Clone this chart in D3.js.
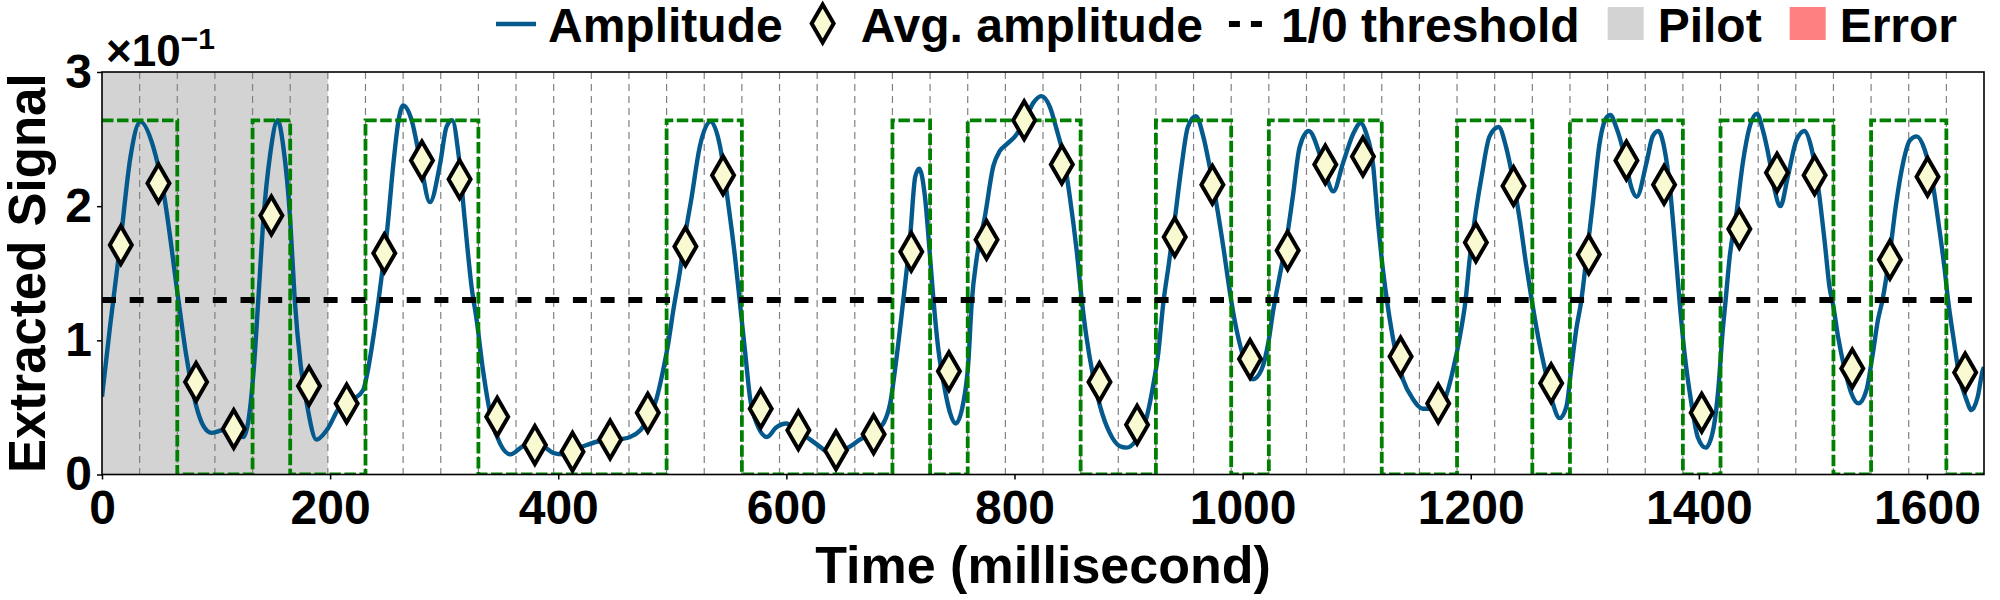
<!DOCTYPE html>
<html>
<head>
<meta charset="utf-8">
<script src="https://cdn.jsdelivr.net/npm/d3@7"></script>
<style>
  body { margin: 0; background: #fff; }
  svg text { font-family: "Liberation Sans", Arial, sans-serif; font-weight: bold; fill: #000; }
</style>
</head>
<body>
<div id="chart"></div>
<script>
// values are in units of 1e-1 (axis offset text "x10^-1")
var bitPeriod = 33;      // ms per bit
var timeMax = 1650;
var pilotEnd = 198;
var threshold = 1.3;
var squareHigh = 2.64;

var bits = [1,1,0,0,1,0,0,1,1,1, 0,0,0,0,0,1,1,0,0,0, 0,1,0,1,1,1,0,0,1,1,
            0,1,1,1,0,0,1,1,0,1, 1,1,0,1,1,1,0,1,1,0];

var avgAmp = [1.71,2.17,0.69,0.34,1.93,0.66,0.53,1.65,2.34,2.20,
              0.43,0.22,0.17,0.26,0.46,1.70,2.23,0.49,0.33,0.18,
              0.30,1.66,0.77,1.75,2.64,2.31,0.69,0.37,1.77,2.16,
              0.86,1.67,2.31,2.37,0.88,0.53,1.73,2.15,0.68,1.64,
              2.34,2.16,0.46,1.83,2.25,2.23,0.79,1.60,2.22,0.76];

// [time ms, amplitude]
var amplitude = [
  [0,0.58],[7,1.10],[16,1.72],[25,2.37],[33.5,2.63],[45,2.44],[54,2.10],[67,1.30],[74,0.88],[82,0.53],
  [89,0.36],[96,0.31],[106,0.33],[115,0.30],[124,0.28],[133,0.78],[137,1.30],[141.5,1.90],[147.5,2.39],[154,2.64],
  [159,2.44],[165,1.90],[169,1.30],[174,0.83],[179.5,0.53],[188,0.26],[197,0.33],[209,0.51],[220,0.56],[229,0.63],
  [232,0.73],[238,1.03],[244,1.40],[250,1.82],[255.5,2.32],[260,2.64],[264,2.75],[271.5,2.64],[279,2.34],[287.5,2.03],
  [296.5,2.32],[302,2.59],[307,2.64],[312.5,2.39],[318,1.90],[324,1.40],[328.5,1.15],[334,0.78],[341.5,0.41],[349,0.23],
  [358,0.15],[369,0.21],[378,0.23],[387,0.21],[396,0.16],[404.5,0.15],[413,0.18],[425,0.22],[436.5,0.25],[451,0.26],
  [463,0.28],[472,0.33],[480,0.43],[486,0.56],[492,0.78],[496.5,0.98],[501,1.23],[507,1.53],[511,1.77],[517,2.07],
  [524,2.44],[533.5,2.63],[542,2.44],[549,2.02],[555,1.62],[559,1.30],[564,0.90],[568,0.58],[574,0.38],[583,0.28],
  [591,0.35],[600,0.38],[609,0.33],[621,0.26],[629,0.21],[638,0.16],[647,0.17],[656,0.21],[664.5,0.26],[676,0.31],
  [685,0.38],[691,0.53],[696,0.83],[702.5,1.30],[708.5,1.77],[713,2.22],[716.5,2.28],[721.5,2.07],[726,1.62],[729,1.30],
  [733,0.95],[739,0.63],[743.5,0.46],[748.5,0.38],[755,0.53],[759.5,0.83],[762.5,1.28],[767,1.62],[774,1.92],[781.5,2.30],
  [787,2.41],[793,2.46],[800.5,2.52],[808,2.62],[816.5,2.77],[823.5,2.82],[831,2.74],[837,2.57],[843,2.37],[848.5,2.07],
  [854.5,1.67],[859,1.30],[863,1.03],[869,0.73],[875,0.51],[883.5,0.31],[892.5,0.21],[898,0.20],[907,0.26],[916,0.43],
  [921.5,0.66],[926,0.90],[930.5,1.28],[935,1.55],[940.5,1.90],[946.5,2.30],[952,2.59],[959,2.67],[965.5,2.52],[971,2.30],
  [977,2.02],[983,1.70],[989,1.35],[993,1.15],[1000.5,0.88],[1009,0.71],[1016.5,0.78],[1022.5,0.98],[1027,1.23],[1032.5,1.48],
  [1038.5,1.75],[1044,2.07],[1050,2.44],[1058,2.56],[1067.5,2.39],[1073.5,2.22],[1079.5,2.11],[1088,2.32],[1097,2.54],[1103.5,2.62],
  [1108.5,2.54],[1114.5,2.30],[1118.5,1.90],[1123,1.53],[1126.5,1.30],[1130.5,1.08],[1135,0.88],[1140.5,0.71],[1149.5,0.56],[1158,0.49],
  [1167,0.49],[1175.5,0.53],[1184.5,0.78],[1190.5,1.03],[1195.5,1.30],[1199,1.60],[1203.5,1.90],[1209.5,2.22],[1216.5,2.52],[1224.5,2.59],
  [1231,2.44],[1237,2.20],[1243,1.90],[1248.5,1.57],[1253.5,1.30],[1259,1.03],[1266.5,0.73],[1272,0.53],[1278,0.42],[1284,0.51],
  [1288,0.78],[1292.5,1.08],[1297,1.30],[1301.5,1.62],[1307,2.02],[1313,2.47],[1319,2.66],[1322.5,2.68],[1327.5,2.59],[1335,2.37],
  [1340.5,2.15],[1345.5,2.07],[1354,2.32],[1359.5,2.52],[1364.5,2.56],[1370,2.42],[1374.5,2.15],[1378.5,1.77],[1383,1.30],[1387.5,0.90],
  [1393.5,0.53],[1399,0.28],[1406,0.20],[1412.5,0.33],[1417,0.63],[1421,1.08],[1423.5,1.30],[1427,1.62],[1433,1.95],[1438.5,2.32],
  [1444.5,2.59],[1451,2.69],[1456,2.57],[1462,2.34],[1466.5,2.12],[1471.5,2.00],[1478,2.22],[1485.5,2.49],[1492.5,2.56],[1498.5,2.44],
  [1504.5,2.15],[1510.5,1.72],[1514.5,1.40],[1518,1.25],[1522,1.03],[1528,0.78],[1533.5,0.61],[1540,0.53],[1547,0.63],[1552.5,0.90],
  [1557,1.15],[1561,1.30],[1567,1.62],[1573,2.02],[1579,2.32],[1585,2.49],[1591,2.52],[1598,2.42],[1605,2.17],[1611,1.82],
  [1615.5,1.53],[1618.5,1.30],[1623,1.03],[1628.5,0.73],[1634.5,0.56],[1639,0.48],[1644.5,0.58],[1649,0.78],[1650,0.80]
];

var xTicks = [0,200,400,600,800,1000,1200,1400,1600];
var yTicks = [0,1,2,3];
var legendLabels = ["Amplitude", "Avg. amplitude", "1/0 threshold", "Pilot", "Error"];

var blue = "#045a8d";
var width = 2000, height = 600;
var plot = { left: 102, right: 1984, top: 72, bottom: 474.5 };

var svg = d3.select("#chart").append("svg")
  .attr("width", width)
  .attr("height", height);

var x = d3.scaleLinear().domain([0, timeMax]).range([plot.left, plot.right]);
var y = d3.scaleLinear().domain([0, 3]).range([plot.bottom, plot.top]);

svg.append("clipPath").attr("id", "clip")
  .append("rect")
  .attr("x", plot.left).attr("y", plot.top)
  .attr("width", plot.right - plot.left).attr("height", plot.bottom - plot.top);

var g = svg.append("g").attr("clip-path", "url(#clip)");

// pilot span
g.append("rect")
  .attr("x", x(0)).attr("y", plot.top)
  .attr("width", x(pilotEnd) - x(0)).attr("height", plot.bottom - plot.top)
  .attr("fill", "#d3d3d3");

// bit boundaries
var bounds = d3.range(1, bits.length).map(function (i) { return i * bitPeriod; });
g.selectAll(".bitline").data(bounds).enter().append("line")
  .attr("x1", function (d) { return x(d); })
  .attr("x2", function (d) { return x(d); })
  .attr("y1", plot.top).attr("y2", plot.bottom)
  .attr("stroke", "#808080").attr("stroke-width", 1.2)
  .attr("stroke-dasharray", "7,5");

// amplitude curve
var line = d3.line()
  .x(function (d) { return x(d[0]); })
  .y(function (d) { return y(d[1]); })
  .curve(d3.curveMonotoneX);
g.append("path").datum(amplitude)
  .attr("d", line)
  .attr("fill", "none").attr("stroke", blue).attr("stroke-width", 4.4);

// decoded bits as square wave
var steps = bits.map(function (b, i) { return [i * bitPeriod, b ? squareHigh : 0]; });
steps.push([timeMax, bits[bits.length - 1] ? squareHigh : 0]);
var stepLine = d3.line()
  .x(function (d) { return x(d[0]); })
  .y(function (d) { return y(d[1]); })
  .curve(d3.curveStepAfter);
g.append("path").datum(steps)
  .attr("d", stepLine)
  .attr("fill", "none").attr("stroke", "#008000").attr("stroke-width", 3.8)
  .attr("stroke-dasharray", "11.5,3.5");

// threshold
g.append("line")
  .attr("x1", x(0)).attr("x2", x(timeMax))
  .attr("y1", y(threshold)).attr("y2", y(threshold))
  .attr("stroke", "#000").attr("stroke-width", 6)
  .attr("stroke-dasharray", "14,13.7");

// diamonds
function diamond(cx, cy) {
  var w = 11, h = 19;
  return "M" + cx + "," + (cy - h) + "L" + (cx + w) + "," + cy +
         "L" + cx + "," + (cy + h) + "L" + (cx - w) + "," + cy + "Z";
}
svg.append("g").selectAll(".avg").data(avgAmp).enter().append("path")
  .attr("d", function (d, i) { return diamond(x((i + 0.5) * bitPeriod), y(d)); })
  .attr("fill", "#fafad2").attr("stroke", "#000").attr("stroke-width", 4)
  .attr("stroke-linejoin", "miter");

// axes
var xAxis = svg.append("g")
  .attr("transform", "translate(0," + plot.bottom + ")")
  .call(d3.axisBottom(x).tickValues(xTicks).tickFormat(d3.format("d")).tickSize(5).tickPadding(10));
var yAxis = svg.append("g")
  .attr("transform", "translate(" + plot.left + ",0)")
  .call(d3.axisLeft(y).tickValues(yTicks).tickFormat(d3.format("d")).tickSize(5).tickPadding(5));
[xAxis, yAxis].forEach(function (a) {
  a.select(".domain").remove();
  a.selectAll(".tick line").attr("stroke", "#000").attr("stroke-width", 1.5);
  a.selectAll(".tick text").style("font-size", "48px").style("font-family", "'Liberation Sans', Arial, sans-serif").style("font-weight", "bold");
});

svg.append("rect")
  .attr("x", plot.left).attr("y", plot.top)
  .attr("width", plot.right - plot.left).attr("height", plot.bottom - plot.top)
  .attr("fill", "none").attr("stroke", "#000").attr("stroke-width", 1.6);

// offset text
var off = svg.append("text").attr("x", 106).attr("y", 66).style("font-size", "44px");
off.append("tspan").text("\u00d710");
off.append("tspan").attr("dy", -17).style("font-size", "30px").text("\u22121");

// axis labels
svg.append("text")
  .attr("x", (plot.left + plot.right) / 2).attr("y", 583)
  .attr("text-anchor", "middle").style("font-size", "52px")
  .text("Time (millisecond)");
svg.append("text")
  .attr("transform", "translate(45," + ((plot.top + plot.bottom) / 2) + ") rotate(-90)")
  .attr("text-anchor", "middle").style("font-size", "51px")
  .text("Extracted Signal");

// legend
var leg = svg.append("g");
var lx = 496, handleW = 40, ly = 24, baseY = 41.5;
legendLabels.forEach(function (label, i) {
  if (i === 0) {
    leg.append("line").attr("x1", lx).attr("x2", lx + handleW).attr("y1", ly).attr("y2", ly)
      .attr("stroke", blue).attr("stroke-width", 4.4);
  } else if (i === 1) {
    leg.append("path").attr("d", diamond(lx + handleW / 2 - 6, ly - 0.5))
      .attr("fill", "#fafad2").attr("stroke", "#000").attr("stroke-width", 4);
  } else if (i === 2) {
    leg.append("line").attr("x1", lx).attr("x2", lx + handleW).attr("y1", ly).attr("y2", ly)
      .attr("stroke", "#000").attr("stroke-width", 6).attr("stroke-dasharray", "11,11");
  } else {
    leg.append("rect").attr("x", lx + 2).attr("y", 7).attr("width", 36).attr("height", 33)
      .attr("fill", i === 3 ? "#d3d3d3" : "#ff8080");
  }
  var t = leg.append("text").attr("x", lx + handleW + 12).attr("y", baseY)
    .style("font-size", "48px").text(label);
  lx = lx + handleW + 12 + t.node().getComputedTextLength() + 26;
});
</script>
</body>
</html>
